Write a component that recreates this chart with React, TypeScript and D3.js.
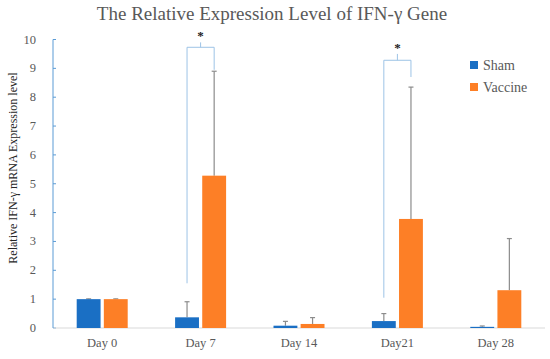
import React from 'react';
import * as d3 from 'd3';

const days = ['Day 0', 'Day 7', 'Day 14', 'Day21', 'Day 28'];
const series = ['Sham', 'Vaccine'];
const shamValues = [1, 0.37, 0.08, 0.24, 0.04];
const shamErrTop = [1.01, 0.91, 0.23, 0.5, 0.07];
const vaccineValues = [1, 5.28, 0.14, 3.78, 1.31];
const vaccineErrTop = [1.01, 8.9, 0.36, 8.35, 3.1];
const yTicks = [0, 1, 2, 3, 4, 5, 6, 7, 8, 9, 10];

// significance brackets: [day, left leg bottom, bracket top, right leg bottom, stem top]
const sigDays = ['Day 7', 'Day21'];
const sigLeftBottom = [1.55, 1.05];
const sigTop = [9.73, 9.28];
const sigRightBottom = [8.95, 8.7];
const sigStemTop = [9.9, 9.5];

const colors = ['#1a6fc4', '#fd7f26'];
const serif = '"Liberation Serif", "DejaVu Serif", serif';

const App = () => {
  const width = 550;
  const height = 359;
  const margin = { top: 39.5, right: 5, bottom: 31, left: 53 };
  const innerW = width - margin.left - margin.right;
  const innerH = height - margin.top - margin.bottom;

  const x = d3.scaleBand().domain(days).range([0, innerW]).paddingInner(0).paddingOuter(0);
  const x1 = d3.scaleBand().domain(series).range([0, 51]).paddingInner(0.12);
  const y = d3.scaleLinear().domain([0, 10]).range([innerH, 0]);

  const groupOffset = (x.bandwidth() - 51) / 2;
  const barX = (day: string, s: string) => (x(day) ?? 0) + groupOffset + (x1(s) ?? 0);
  const barCenter = (day: string, s: string) => barX(day, s) + x1.bandwidth() / 2;

  const data = series.map((s, si) =>
    days.map((d, i) => ({
      day: d,
      s,
      value: si === 0 ? shamValues[i] : vaccineValues[i],
      err: si === 0 ? shamErrTop[i] : vaccineErrTop[i],
    }))
  );

  return (
    <svg width={width} height={height} style={{ display: 'block', position: 'absolute', left: 0, top: 0 }}>
      <rect width={width} height={height} fill="#fff" />
      <text x={272} y={20} textAnchor="middle" fontFamily={serif} fontSize={19} fill="#595959">
        The Relative Expression Level of IFN-γ Gene
      </text>
      <text
        transform={`translate(17, 168) rotate(-90)`}
        textAnchor="middle"
        fontFamily={serif}
        fontSize={12}
        fill="#262626"
      >
        Relative IFN-γ mRNA Expression level
      </text>
      <g transform={`translate(${margin.left}, ${margin.top})`}>
        {yTicks.map((t) => (
          <g key={t}>
            <text x={-17} y={y(t) + 4} textAnchor="end" fontFamily={serif} fontSize={12.5} fill="#595959">
              {t}
            </text>
            <line x1={0} x2={3} y1={y(t)} y2={y(t)} stroke="#5b9bd5" strokeWidth={1} />
          </g>
        ))}
        <line x1={0} x2={innerW} y1={innerH} y2={innerH} stroke="#d9d9d9" strokeWidth={1} />
        <line x1={0} x2={0} y1={0} y2={innerH} stroke="#5b9bd5" strokeWidth={1} />
        {days.map((d) => (
          <text
            key={d}
            x={(x(d) ?? 0) + x.bandwidth() / 2}
            y={innerH + 19}
            textAnchor="middle"
            fontFamily={serif}
            fontSize={12.5}
            fill="#595959"
          >
            {d}
          </text>
        ))}
        {data.map((row, si) =>
          row.map((b) => (
            <g key={b.day + b.s}>
              <line
                x1={barCenter(b.day, b.s)}
                x2={barCenter(b.day, b.s)}
                y1={y(b.value)}
                y2={y(b.err)}
                stroke="#8c8c8c"
                strokeWidth={1.2}
              />
              <line
                x1={barCenter(b.day, b.s) - 2.5}
                x2={barCenter(b.day, b.s) + 2.5}
                y1={y(b.err)}
                y2={y(b.err)}
                stroke="#8c8c8c"
                strokeWidth={1.2}
              />
              <rect
                x={barX(b.day, b.s)}
                y={y(b.value)}
                width={x1.bandwidth()}
                height={innerH - y(b.value)}
                fill={colors[si]}
              />
            </g>
          ))
        )}
        {sigDays.map((d, i) => {
          const lx = barCenter(d, 'Sham');
          const rx = barCenter(d, 'Vaccine');
          const mx = (lx + rx) / 2;
          return (
            <g key={d}>
              <path
                d={`M${lx},${y(sigLeftBottom[i])}V${y(sigTop[i])}H${rx}V${y(sigRightBottom[i])}M${mx},${y(sigTop[i])}V${y(sigStemTop[i])}`}
                fill="none"
                stroke="#9dc3e6"
                strokeWidth={1}
              />
              <text x={mx} y={y(sigStemTop[i]) - 2} textAnchor="middle" fontFamily={serif} fontSize={13} fontWeight="bold" fill="#222">
                *
              </text>
            </g>
          );
        })}
      </g>
      {series.map((s, i) => (
        <g key={s} transform={`translate(470, ${61 + i * 22})`}>
          <rect width={8} height={8} fill={colors[i]} />
          <text x={13} y={8.5} fontFamily={serif} fontSize={14} fill="#595959">
            {s}
          </text>
        </g>
      ))}
    </svg>
  );
};

export default App;
